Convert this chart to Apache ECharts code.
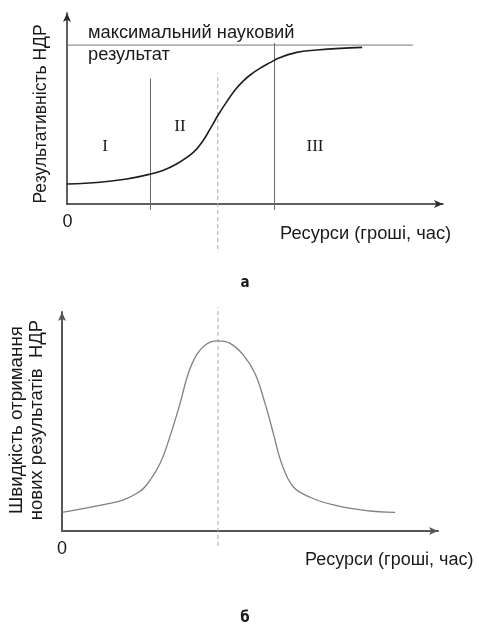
<!DOCTYPE html>
<html><head><meta charset="utf-8">
<script src="https://cdn.jsdelivr.net/npm/echarts@6/dist/echarts.min.js"></script>
<style>html,body{margin:0;padding:0;background:#fff}#c{width:479px;height:626px}</style>
</head><body><div id="c"></div>
<script>
// ---- Chart а: S-curve of research effectiveness vs resources ----
const sCurveX = [0, 8.8, 15.9, 22.2, 25.5, 29.0, 33.6, 36.3, 38.0, 40.2, 42.5, 44.7, 46.9, 49.1, 51.3, 54.0, 56.2, 61.1, 66.4, 72.6, 78.5];
const sCurveY = [10.5, 11.4, 13.1, 15.7, 17.6, 20.8, 27.0, 33.5, 39.1, 46.6, 53.6, 59.7, 64.5, 68.1, 71.0, 74.0, 76.3, 79.4, 80.6, 81.5, 82.0];
const maxResultLevel = 83.2;
const maxResultLineEnd = 92;
const phaseBoundaryX = [22.2, 55.2];
const phaseBoundaryTop = [65.8, 84.3];
const phaseBoundaryBottom = -3.1;
const inflectionX = 40.1;
const inflectionDashRange = [-23.6, 68.6];
const phaseLabels = ['I', 'II', 'III'];

// ---- Chart б: speed of obtaining new results ----
const bellX = [0, 11.4, 16.0, 20.3, 22.5, 26.1, 28.7, 31.4, 33.6, 35.8, 38.5, 41.4, 44.7, 48.2, 51.3, 54.0, 56.2, 58.4, 61.5, 66.0, 72.2, 81.0, 88.6];
const bellY = [8.5, 12.2, 14.0, 17.6, 21.0, 30.9, 43.1, 58.3, 72.0, 80.4, 85.4, 86.8, 85.7, 80.4, 72.0, 58.3, 44.6, 30.9, 20.2, 15.4, 11.9, 9.3, 8.5];
const peakX = 41.5;
const peakDashRange = [-6.8, 102.3];

const zip = (xs, ys) => xs.map((x, i) => [x, ys[i]]);

const chart = echarts.init(document.getElementById('c'), null, {renderer: 'canvas'});

function axisStyle(color, width) {
  return {
    show: true,
    onZero: false,
    symbol: ['none', 'arrow'],
    symbolSize: [6, 9],
    lineStyle: {color: color, width: width}
  };
}
function xAxis(gi, color, width) {
  return {type: 'value', gridIndex: gi, min: 0, max: 100,
    axisLine: axisStyle(color, width), axisTick: {show: false}, axisLabel: {show: false}, splitLine: {show: false}};
}
function yAxis(gi, color, width) {
  return {type: 'value', gridIndex: gi, min: 0, max: 100,
    axisLine: axisStyle(color, width), axisTick: {show: false}, axisLabel: {show: false}, splitLine: {show: false}};
}
function lineSeries(gi, data, color, width, type, smooth) {
  return {type: 'line', xAxisIndex: gi, yAxisIndex: gi, data: data, showSymbol: false, symbol: 'none',
    clip: false, silent: true, smooth: smooth || false,
    lineStyle: {color: color, width: width, type: type || 'solid'}, animation: false};
}

const series = [];
// top chart
series.push(lineSeries(0, [[0, maxResultLevel], [maxResultLineEnd, maxResultLevel]], '#777', 1));
phaseBoundaryX.forEach((x, i) => {
  series.push(lineSeries(0, [[x, phaseBoundaryBottom], [x, phaseBoundaryTop[i]]], '#666', 1));
});
series.push(lineSeries(0, [[inflectionX, inflectionDashRange[0]], [inflectionX, inflectionDashRange[1]]], '#aaa', 1, [4, 3]));
series.push(lineSeries(0, zip(sCurveX, sCurveY), '#1e1e1e', 1.6, 'solid', 0.4));
// bottom chart
series.push(lineSeries(1, [[peakX, peakDashRange[0]], [peakX, peakDashRange[1]]], '#aaa', 1, [4, 3]));
series.push(lineSeries(1, zip(bellX, bellY), '#808080', 1.3, 'solid', 0.4));

const sans = '"Liberation Sans", Arial, sans-serif';
const serif = '"Liberation Serif", "Times New Roman", serif';
function txt(text, x, y, size, opts) {
  opts = opts || {};
  return {type: 'text', silent: true, rotation: opts.rotation || 0, x: x, y: y,
    style: {text: text, x: 0, y: 0, fill: opts.color || '#1a1a1a',
      font: (opts.weight || 'normal') + ' ' + size + 'px ' + (opts.family || sans),
      textAlign: opts.align || 'left', textVerticalAlign: 'middle'}};
}

const graphics = [
  txt('максимальний науковий', 88, 33, 18.3),
  txt('результат', 88, 54.7, 18.3),
  txt(phaseLabels[0], 105, 147, 17, {family: serif, align: 'center'}),
  txt(phaseLabels[1], 180, 127, 17, {family: serif, align: 'center'}),
  txt(phaseLabels[2], 315, 147, 17, {family: serif, align: 'center'}),
  txt('0', 67.5, 221.7, 18, {align: 'center'}),
  txt('Ресурси (гроші, час)', 280, 234.4, 18.3),
  txt('Результативність НДР', 40.7, 114, 17.5, {align: 'center', rotation: Math.PI / 2}),
  txt('а', 245, 283.5, 15, {align: 'center', weight: 'bold', family: '"DejaVu Sans Condensed", sans-serif'}),
  txt('0', 62, 548.7, 18, {align: 'center'}),
  txt('Ресурси (гроші, час)', 305, 559.7, 18),
  txt('Швидкість отримання', 17, 420, 18.8, {align: 'center', rotation: Math.PI / 2}),
  txt('нових результатів  НДР', 37, 420, 18.5, {align: 'center', rotation: Math.PI / 2}),
  txt('б', 245, 618, 15, {align: 'center', weight: 'bold', family: '"DejaVu Sans Condensed", sans-serif'})
];

chart.setOption({
  animation: false,
  backgroundColor: '#fff',
  grid: [
    {left: 67, right: 36, top: 13, bottom: 422, containLabel: false},
    {left: 62, right: 41, top: 312, bottom: 95, containLabel: false}
  ],
  xAxis: [xAxis(0, '#2a2a2a', 1.5), xAxis(1, '#555', 2)],
  yAxis: [yAxis(0, '#2a2a2a', 1.5), yAxis(1, '#555', 2)],
  series: series,
  graphic: graphics
});
</script>
</body></html>
